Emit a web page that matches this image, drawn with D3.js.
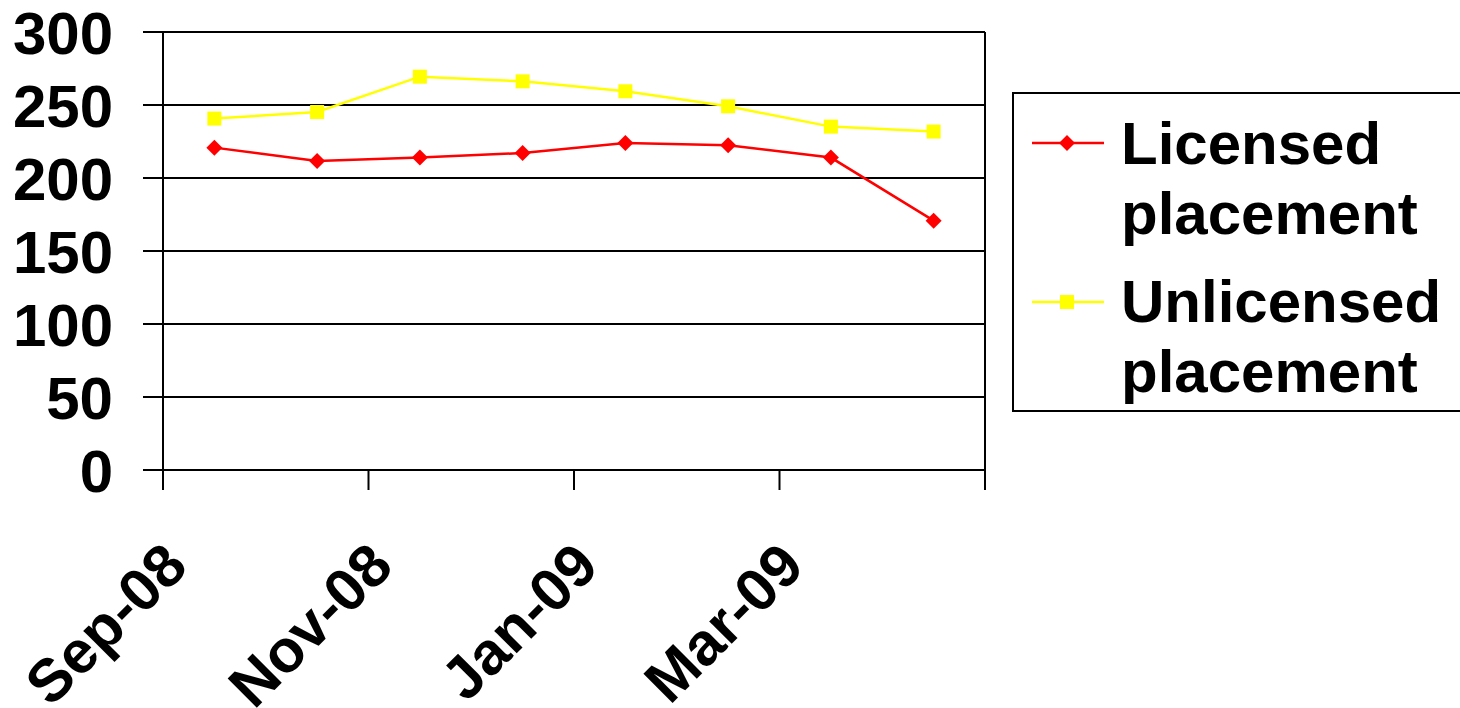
<!DOCTYPE html>
<html>
<head>
<meta charset="utf-8">
<script src="https://cdn.jsdelivr.net/npm/d3@7"></script>
<style>
  html, body { margin: 0; padding: 0; background: #fff; }
  svg { display: block; }
  text { font-family: "Liberation Sans", Arial, sans-serif; font-weight: bold; fill: #000; }
</style>
</head>
<body>
<svg id="chart" width="1460" height="708"></svg>
<script>
const categories = ["Sep-08","Oct-08","Nov-08","Dec-08","Jan-09","Feb-09","Mar-09","Apr-09"];
const licensed   = [220.8, 211.6, 214.0, 217.1, 224.0, 222.4, 214.0, 170.8];
const unlicensed = [240.7, 245.2, 269.4, 266.2, 259.4, 249.1, 235.2, 231.8];
const seriesNames = ["Licensed placement", "Unlicensed placement"];
const yTicks = [0, 50, 100, 150, 200, 250, 300];
const xLabelEvery = 2;

(function () {
const svg = d3.select("#chart");
const pLeft = 163, pRight = 985, pTop = 32, pBottom = 470;

const x = d3.scaleBand().domain(categories).range([pLeft, pRight]).paddingInner(0).paddingOuter(0);
const y = d3.scaleLinear().domain([0, 300]).range([pBottom, pTop]);

// gridlines
svg.append("g").selectAll("line").data(yTicks).join("line")
  .attr("x1", pLeft - 20).attr("x2", pRight)
  .attr("y1", d => y(d)).attr("y2", d => y(d))
  .attr("stroke", "#000").attr("stroke-width", 2);

// right border
svg.append("line").attr("x1", pRight).attr("x2", pRight).attr("y1", pTop).attr("y2", pBottom)
  .attr("stroke", "#000").attr("stroke-width", 2);

// y axis line
svg.append("line").attr("x1", pLeft).attr("x2", pLeft).attr("y1", pTop).attr("y2", pBottom)
  .attr("stroke", "#000").attr("stroke-width", 2);

// y labels
svg.append("g").selectAll("text").data(yTicks).join("text")
  .attr("x", 113).attr("y", d => y(d)).attr("dy", "0.36em")
  .attr("text-anchor", "end").attr("font-size", 60)
  .text(d => d);

// x tick marks (every 2 categories + right end)
const tickCats = categories.filter((d, i) => i % xLabelEvery === 0);
const tickXs = tickCats.map(c => x(c)).concat([pRight]);
svg.append("g").selectAll("line").data(tickXs).join("line")
  .attr("x1", d => d).attr("x2", d => d).attr("y1", pBottom).attr("y2", pBottom + 20)
  .attr("stroke", "#000").attr("stroke-width", 2);

// x labels
svg.append("g").selectAll("text").data(tickCats).join("text")
  .attr("text-anchor", "end").attr("font-size", 60)
  .attr("transform", d => `translate(${x(d) + 27},${569}) rotate(-45)`)
  .text(d => d);

// series
const series = [
  { name: seriesNames[0], values: licensed, color: "#ff0000", marker: "diamond" },
  { name: seriesNames[1], values: unlicensed, color: "#ffff00", marker: "square" }
];
const line = d3.line().x((d, i) => x(categories[i]) + x.bandwidth() / 2).y(d => y(d));

function drawMarker(g, type, cx, cy, color) {
  if (type === "diamond") {
    g.append("path").attr("d", `M${cx},${cy-8}L${cx+8},${cy}L${cx},${cy+8}L${cx-8},${cy}Z`).attr("fill", color);
  } else {
    g.append("rect").attr("x", cx - 7).attr("y", cy - 7).attr("width", 14).attr("height", 14).attr("fill", color);
  }
}

series.forEach(s => {
  const g = svg.append("g");
  g.append("path").datum(s.values).attr("d", line).attr("fill", "none")
    .attr("stroke", s.color).attr("stroke-width", 2.5);
  s.values.forEach((v, i) => drawMarker(g, s.marker, x(categories[i]) + x.bandwidth() / 2, y(v), s.color));
});

// legend
const lg = svg.append("g");
lg.append("rect").attr("x", 1013).attr("y", 93).attr("width", 470).attr("height", 318)
  .attr("fill", "#fff").attr("stroke", "#000").attr("stroke-width", 2);
const legendRows = [
  { s: series[0], ly: 143, lines: ["Licensed", "placement"], ty: 164 },
  { s: series[1], ly: 302, lines: ["Unlicensed", "placement"], ty: 322 }
];
legendRows.forEach(r => {
  lg.append("line").attr("x1", 1032).attr("x2", 1104).attr("y1", r.ly).attr("y2", r.ly)
    .attr("stroke", r.s.color).attr("stroke-width", 2.5);
  drawMarker(lg, r.s.marker, 1067, r.ly, r.s.color);
  r.lines.forEach((t, k) => {
    lg.append("text").attr("x", 1121).attr("y", r.ty + k * 70).attr("font-size", 60).text(t);
  });
});
})();
</script>
</body>
</html>
